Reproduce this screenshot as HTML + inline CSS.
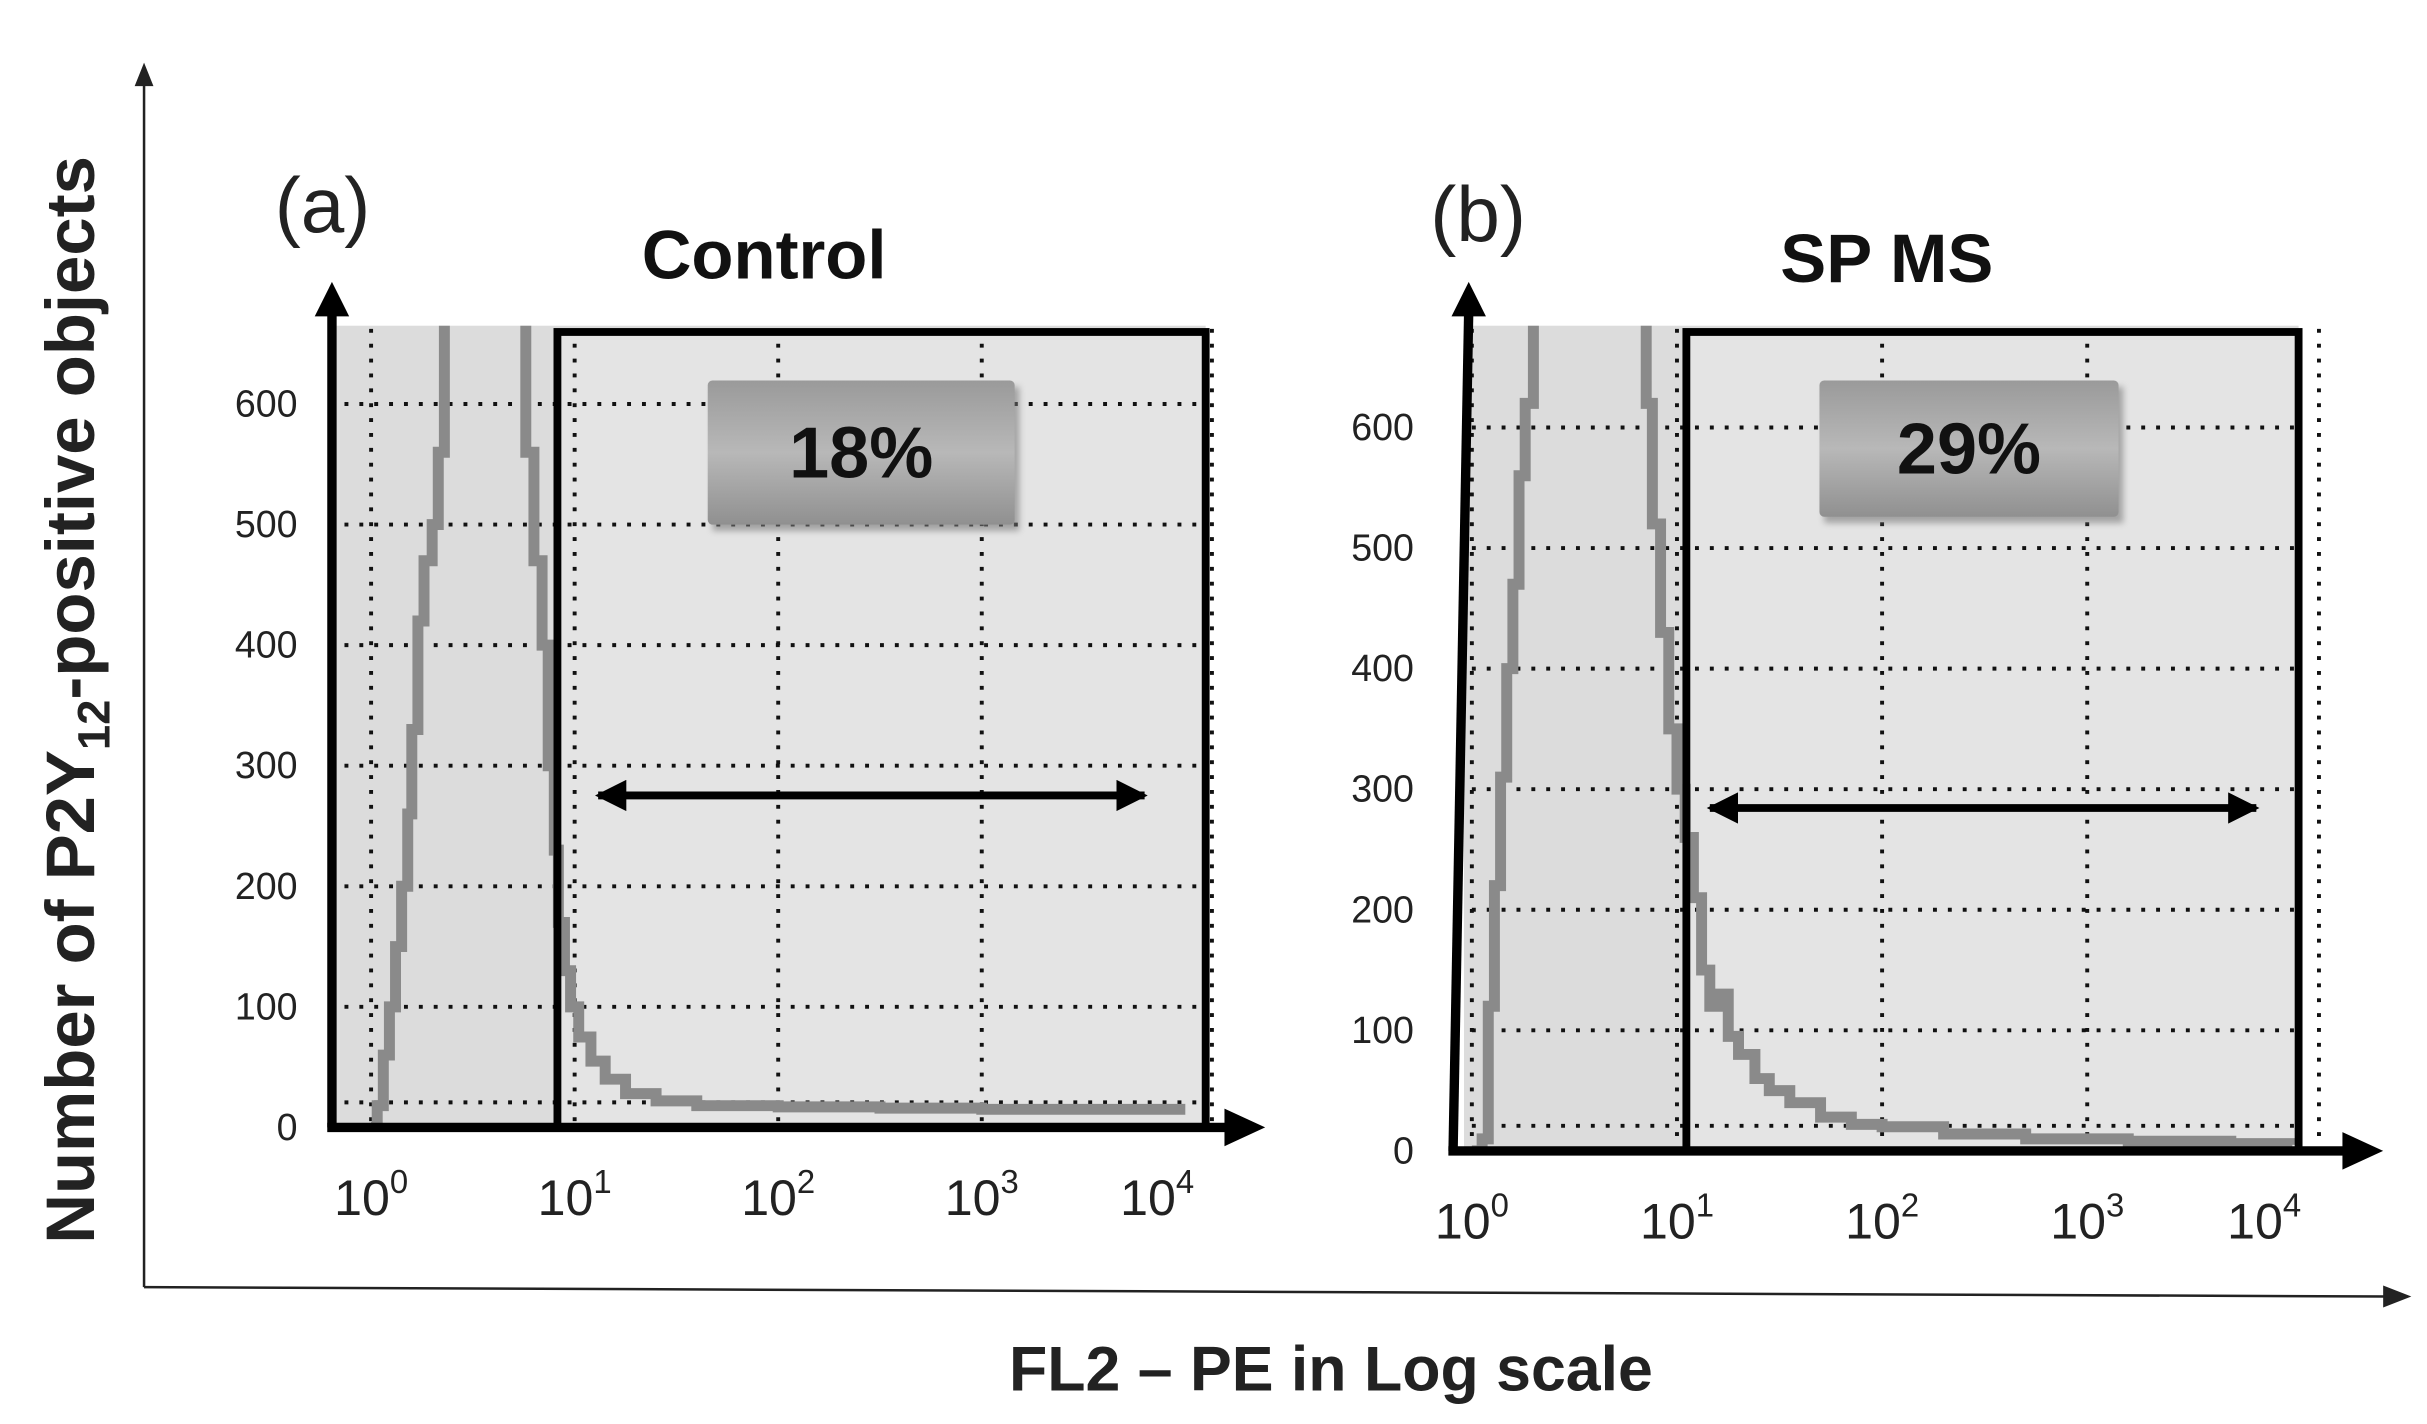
<!DOCTYPE html>
<html><head><meta charset="utf-8"><style>
html,body{margin:0;padding:0;background:#fff;}
svg{display:block;}
text{font-family:"Liberation Sans",sans-serif;}
</style></head><body>
<svg id="fig" width="2427" height="1424" viewBox="0 0 1550 909.4" xmlns="http://www.w3.org/2000/svg">
<defs>
<linearGradient id="boxg" x1="0" y1="0" x2="0" y2="1"><stop offset="0" stop-color="#9a9a9a"/><stop offset="0.5" stop-color="#b8b8b8"/><stop offset="1" stop-color="#909090"/></linearGradient>
<filter id="sh"><feGaussianBlur stdDeviation="2"/></filter>
<marker id="ah" viewBox="0 0 10 10" refX="9" refY="5" markerWidth="4" markerHeight="4" orient="auto-start-reverse"><path d="M0,0 L10,5 L0,10 z" fill="#000"/></marker>
</defs>
<g id="outer">
<line x1="92" y1="822" x2="92" y2="52" stroke="#222" stroke-width="1.6"/>
<path d="M86,55 L92,40 L98,55 z" fill="#222"/>
<line x1="92" y1="822" x2="1525" y2="828" stroke="#222" stroke-width="1.6"/>
<path d="M1522,821 L1540,828 L1522,835 z" fill="#222"/>
<text transform="translate(60,447) rotate(-90)" text-anchor="middle" font-size="44" font-weight="bold" fill="#222">Number of P2Y<tspan font-size="29" dy="10">12</tspan><tspan dy="-10">-positive objects</tspan></text>
<text x="850" y="888" text-anchor="middle" font-size="40" font-weight="bold" fill="#222">FL2 – PE in Log scale</text>
</g>
<g id="pa"></g>
<g id="pb"></g>
</svg>
<script>
const yTicks = [0,100,200,300,400,500,600];
const xDecades = [0,1,2,3,4];
const histALog = [0,0.03,0.06,0.09,0.12,0.15,0.18,0.2,0.23,0.26,0.3,0.33,0.36,0.4,0.5,0.6,0.7,0.76,0.8,0.84,0.87,0.9,0.92,0.95,0.98,1.02,1.08,1.15,1.25,1.4,1.6,2.0,2.5,3.0,3.5,4.0];
const histACount = [0,18,60,100,150,200,260,330,420,470,500,560,700,700,700,700,700,560,470,400,300,230,170,130,100,75,55,40,28,22,18,17,16,15,15,15];
const histBLog = [0,0.05,0.08,0.11,0.14,0.17,0.2,0.23,0.26,0.3,0.4,0.6,0.8,0.85,0.88,0.92,0.96,1.0,1.04,1.08,1.12,1.16,1.2,1.25,1.3,1.38,1.45,1.55,1.7,1.85,2.0,2.3,2.7,3.2,3.7,4.0];
const histBCount = [0,10,120,220,310,400,470,560,620,700,700,700,700,620,520,430,350,300,260,210,150,120,130,95,80,60,50,40,28,22,20,14,10,8,6,5];
const NS='http://www.w3.org/2000/svg';
function el(tag,attrs,parent){const e=document.createElementNS(NS,tag);for(const k in attrs)e.setAttribute(k,attrs[k]);parent.appendChild(e);return e;}
function panel(g,cfg){
  const X=L=>cfg.x0+cfg.dx*L, Y=c=>cfg.y0-0.77*c;
  const bg=el('rect',{x:cfg.left,y:cfg.top,width:cfg.right-cfg.left,height:cfg.y0-cfg.top,fill:'#dcdcdc'},g);
  
  
  const gate=el('rect',{x:cfg.gx,y:cfg.top+4,width:cfg.right-cfg.gx,height:cfg.y0-cfg.top-4,fill:'#e4e4e4'},g);
  
  
  yTicks.forEach(t=>{
    const yy = t===0 ? cfg.y0-16 : Y(t);
    const l=el('line',{x1:cfg.left+5,x2:cfg.right,y1:yy,y2:yy,stroke:'#111','stroke-width':2.5,'stroke-dasharray':'2.5 7'},g);
    
    
    const tx=el('text',{x:cfg.labX,y:Y(t)+8,'text-anchor':'end','font-size':24,fill:'#222'},g);
    tx.textContent=t;
    
    
  });
  xDecades.forEach(d=>{
    const xx=X(d)+(d===4?17:0);
    const l=el('line',{x1:xx,x2:xx,y1:cfg.top+2,y2:cfg.y0,stroke:'#111','stroke-width':2.5,'stroke-dasharray':'2.5 7'},g);
    
    
    const tx=el('text',{x:X(d)-(d===4?18:0),y:cfg.y0+56,'text-anchor':'middle','font-size':32,fill:'#222'},g);
    tx.innerHTML='10<tspan font-size="21" dy="-14">'+d+'</tspan>';
    
    
  });
  let d='';
  cfg.logs.forEach((L,i)=>{const c=Math.min(cfg.counts[i],690);const px=X(L),py=Y(c);
    if(i===0)d+='M'+px+','+py; else d+=' H'+px+' V'+py;});
  const cp=el('clipPath',{id:'clip'+cfg.id},g);
  el('rect',{x:cfg.left,y:cfg.top,width:cfg.right-cfg.left,height:cfg.y0-cfg.top},cp);
  const h=el('path',{d:d,fill:'none',stroke:'#8a8a8a','stroke-width':7,'clip-path':'url(#clip'+cfg.id+')'},g);
  
  
  const gb=el('rect',{x:cfg.gx,y:cfg.top+4,width:cfg.right-cfg.gx,height:cfg.y0-cfg.top-4,fill:'none',stroke:'#000','stroke-width':5},g);
  
  
  const ya=el('line',{x1:cfg.ax0,y1:cfg.y0,x2:cfg.ax1,y2:cfg.top-10,stroke:'#000','stroke-width':6},g);
  
  
  const yh=el('path',{d:'M'+(cfg.ax1-11)+','+(cfg.top-6)+' L'+cfg.ax1+','+(cfg.top-28)+' L'+(cfg.ax1+11)+','+(cfg.top-6)+' z',fill:'#000'},g);
  
  
  const xa=el('line',{x1:cfg.ax0-3,y1:cfg.y0,x2:cfg.xend-20,y2:cfg.y0,stroke:'#000','stroke-width':6},g);
  
  
  const xh=el('path',{d:'M'+(cfg.xend-26)+','+(cfg.y0-12)+' L'+cfg.xend+','+cfg.y0+' L'+(cfg.xend-26)+','+(cfg.y0+12)+' z',fill:'#000'},g);
  
  
  const da=el('line',{x1:cfg.arrX1+4,x2:cfg.arrX2-4,y1:cfg.arrY,y2:cfg.arrY,stroke:'#000','stroke-width':5,'marker-start':'url(#ah)','marker-end':'url(#ah)'},g);
  
  
  const sh=el('rect',{x:cfg.bx+3,y:cfg.by+4,width:cfg.bw,height:cfg.bh,fill:'#777',filter:'url(#sh)',opacity:0.6},g);
  
  
  const pb=el('rect',{x:cfg.bx,y:cfg.by,width:cfg.bw,height:cfg.bh,fill:'url(#boxg)',rx:3},g);
  
  
  const pt=el('text',{x:cfg.bx+cfg.bw/2,y:cfg.by+cfg.bh/2+16,'text-anchor':'middle','font-size':46,'font-weight':'bold',fill:'#111'},g);
  pt.textContent=cfg.pct;
  
  
  const lt=el('text',{x:cfg.letX,y:cfg.letY,'text-anchor':'middle','font-size':50,fill:'#222'},g);
  lt.textContent=cfg.letter;
  
  
  const tt=el('text',{x:cfg.titX,y:cfg.titY,'text-anchor':'middle','font-size':44,'font-weight':'bold',fill:'#111'},g);
  tt.textContent=cfg.title;
  
  
}
panel(document.getElementById('pa'),{id:'a',x0:237,dx:130,y0:720,left:215,right:770,top:208,gx:356,labX:190,
  logs:histALog,counts:histACount,ax0:212,ax1:212,xend:808,arrX1:378,arrX2:735,arrY:508,
  bx:452,by:243,bw:196,bh:92,pct:'18%',letter:'(a)',letX:206,letY:148,title:'Control',titX:488,titY:178});
panel(document.getElementById('pb'),{id:'b',x0:940,dx:131,y0:735,left:935,right:1468,top:208,gx:1077,labX:903,
  logs:histBLog,counts:histBCount,ax0:928,ax1:938,xend:1522,arrX1:1088,arrX2:1445,arrY:516,
  bx:1162,by:243,bw:191,bh:87,pct:'29%',letter:'(b)',letX:944,letY:154,title:'SP MS',titX:1205,titY:180});
</script>
</body></html>
